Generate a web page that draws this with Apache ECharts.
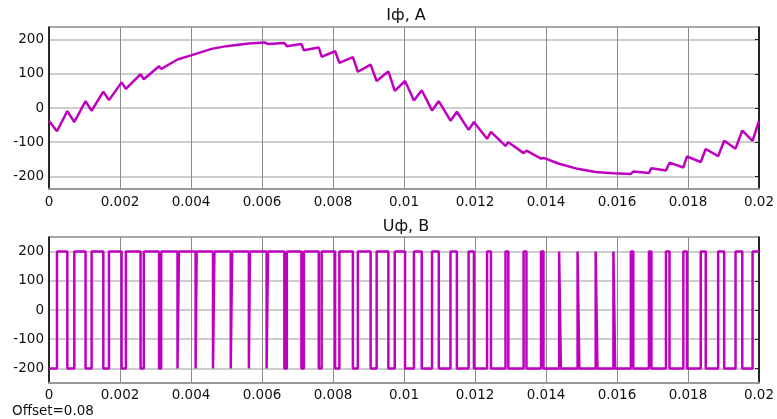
<!DOCTYPE html>
<html>
<head>
<meta charset="utf-8">
<script src="https://cdn.jsdelivr.net/npm/echarts@6/dist/echarts.min.js"></script>
<style>
  html, body { margin: 0; padding: 0; background: #ffffff; }
  #chart { width: 777px; height: 419px; }
</style>
</head>
<body>
<div id="chart"></div>
<script>
// Phase current: time (s) and current (A) at the ripple corners
const tI = [
  0, 0.000225, 0.000516, 0.000713, 0.00103, 0.0012, 0.00153, 0.00169,
  0.002045, 0.002166, 0.00258, 0.00267, 0.0031, 0.00316, 0.00362, 0.00366,
  0.0040, 0.00458, 0.0050, 0.00563, 0.00608, 0.00613, 0.00617, 0.00663, 0.0067,
  0.00711, 0.00718, 0.0076, 0.00768, 0.00806, 0.00818, 0.00856, 0.0087,
  0.00906, 0.00923, 0.00956, 0.00974, 0.01003, 0.01028, 0.0105, 0.01079,
  0.01098, 0.01131, 0.01149, 0.01182, 0.01197, 0.01234, 0.01245, 0.01286,
  0.01294, 0.01337, 0.01345, 0.01386, 0.01393, 0.01437, 0.01442, 0.01489,
  0.01494, 0.0154, 0.01545, 0.0159, 0.01595, 0.01639, 0.01646, 0.0169,
  0.01697, 0.01738, 0.01748, 0.01787, 0.01797, 0.01836, 0.0185, 0.01885,
  0.01902, 0.01934, 0.01953, 0.01982, 0.02
];
const iA = [
  -38, -68, -9, -41, 20, -8, 48, 23,
  75, 56, 99, 84, 122, 114, 142, 137,
  154, 173, 181, 189, 192, 192, 187, 190, 181,
  187, 169, 177, 150, 166, 132, 149, 106,
  127, 79, 107, 50, 79, 22, 52, -7,
  20, -37, -11, -64, -41, -90, -70, -111,
  -100, -132, -125, -148, -146, -163, -161, -178,
  -177, -187, -186, -191, -190, -193, -186, -190,
  -176, -183, -160, -174, -142, -158, -120, -141,
  -96, -119, -66, -96, -38
];

// Phase voltage: switching instants (s) and the level (V) held after each one
const uT = [
  0, 0.000225,
  0.000516, 0.000713,
  0.00103, 0.0012,
  0.00153, 0.00169,
  0.002045, 0.002166,
  0.00258, 0.00267,
  0.0031, 0.00316,
  0.00362, 0.00366,
  0.00413, 0.00416,
  0.00462, 0.00466,
  0.00512, 0.00516,
  0.00563, 0.00566,
  0.00613, 0.00617,
  0.00663, 0.0067,
  0.00711, 0.00718,
  0.0076, 0.00768,
  0.00806, 0.00818,
  0.00856, 0.0087,
  0.00906, 0.00923,
  0.00956, 0.00974,
  0.01003, 0.01028,
  0.0105, 0.01079,
  0.01098, 0.01131,
  0.01149, 0.01182,
  0.01197, 0.01234,
  0.01245, 0.01286,
  0.01294, 0.01337,
  0.01345, 0.01386,
  0.01393, 0.01437,
  0.01442, 0.01489,
  0.01494, 0.0154,
  0.01545, 0.0159,
  0.01595, 0.01639,
  0.01646, 0.0169,
  0.01697, 0.01738,
  0.01748, 0.01787,
  0.01797, 0.01836,
  0.0185, 0.01885,
  0.01902, 0.01934,
  0.01953, 0.01982,
  0.02
];
const uV = [
  -200, 200,
  -200, 200,
  -200, 200,
  -200, 200,
  -200, 200,
  -200, 200,
  -200, 200,
  -200, 200,
  -200, 200,
  -200, 200,
  -200, 200,
  -200, 200,
  -200, 200,
  -200, 200,
  -200, 200,
  -200, 200,
  -200, 200,
  -200, 200,
  -200, 200,
  -200, 200,
  -200, 200,
  -200, 200,
  -200, 200,
  -200, 200,
  -200, 200,
  -200, 200,
  -200, 200,
  -200, 200,
  -200, 200,
  -200, 200,
  -200, 200,
  -200, 200,
  -200, 200,
  -200, 200,
  -200, 200,
  -200, 200,
  -200, 200,
  -200, 200,
  -200, 200,
  -200, 200,
  200
];

// Tick values
const xTicks = [0, 0.002, 0.004, 0.006, 0.008, 0.01, 0.012, 0.014, 0.016, 0.018, 0.02];
const yTicks = [-200, -100, 0, 100, 200];

const FONT = 'DejaVu Sans';
const TRACE = '#c000c0';

const chart = echarts.init(document.getElementById('chart'), null, { renderer: 'canvas' });

function xAxisFor(gridIndex, labelMargin) {
  return {
    type: 'value', gridIndex: gridIndex, min: 0, max: 0.02,
    axisLine: { show: true, onZero: false, lineStyle: { color: '#9a9a9a', width: 2 } },
    axisTick: { show: false, customValues: xTicks },
    axisLabel: {
      customValues: xTicks, margin: labelMargin, color: '#111', fontFamily: FONT, fontSize: 13.5,
      formatter: v => String(parseFloat(v.toFixed(3)))
    },
    splitLine: { show: true, lineStyle: { color: '#8a8a8a', width: 1 } }
  };
}
function yAxisFor(gridIndex, lim) {
  return {
    type: 'value', gridIndex: gridIndex, min: -lim, max: lim,
    axisLine: { show: true, onZero: false, lineStyle: { color: '#000', width: 1.5 } },
    axisTick: { show: false, customValues: yTicks },
    axisLabel: { customValues: yTicks, margin: 5, color: '#111', fontFamily: FONT, fontSize: 13.5 },
    splitLine: { show: true, lineStyle: { color: '#bdbdbd', width: 1.5 } }
  };
}
function yRightFor(gridIndex, lim) {
  return {
    type: 'value', gridIndex: gridIndex, min: -lim, max: lim, position: 'right',
    axisLine: { show: true, onZero: false, lineStyle: { color: '#000', width: 1.5 } },
    axisTick: { show: true, inside: true, length: 4, customValues: yTicks, lineStyle: { color: '#222' } },
    axisLabel: { show: false },
    splitLine: { show: false }
  };
}

chart.setOption({
  animation: false,
  backgroundColor: '#ffffff',
  grid: [
    { left: 49, right: 17, top: 27, height: 162, show: true, borderColor: '#505050', borderWidth: 1 },
    { left: 49, right: 17, top: 237, height: 146, show: true, borderColor: '#505050', borderWidth: 1 }
  ],
  xAxis: [xAxisFor(0, 6), xAxisFor(1, 5)],
  yAxis: [yAxisFor(0, 237), yAxisFor(1, 250), yRightFor(0, 237), yRightFor(1, 250)],
  graphic: [
    { type: 'text', x: 406, y: 16, style: { text: 'Iф, A', font: '16px "DejaVu Sans"', fill: '#111', textAlign: 'center', textVerticalAlign: 'middle' } },
    { type: 'text', x: 406, y: 227, style: { text: 'Uф, B', font: '16px "DejaVu Sans"', fill: '#111', textAlign: 'center', textVerticalAlign: 'middle' } },
    { type: 'text', x: 12, y: 411, style: { text: 'Offset=0.08', font: '13.5px "DejaVu Sans"', fill: '#111', textAlign: 'left', textVerticalAlign: 'middle' } }
  ],
  series: [
    {
      type: 'line', xAxisIndex: 0, yAxisIndex: 0,
      data: tI.map((t, k) => [t, iA[k]]),
      showSymbol: false, smooth: false,
      lineStyle: { color: TRACE, width: 2.5 }
    },
    {
      type: 'line', xAxisIndex: 1, yAxisIndex: 1,
      data: uT.map((t, k) => [t, uV[k]]),
      step: 'end', showSymbol: false,
      lineStyle: { color: TRACE, width: 2.5 }
    }
  ]
});
</script>
</body>
</html>
